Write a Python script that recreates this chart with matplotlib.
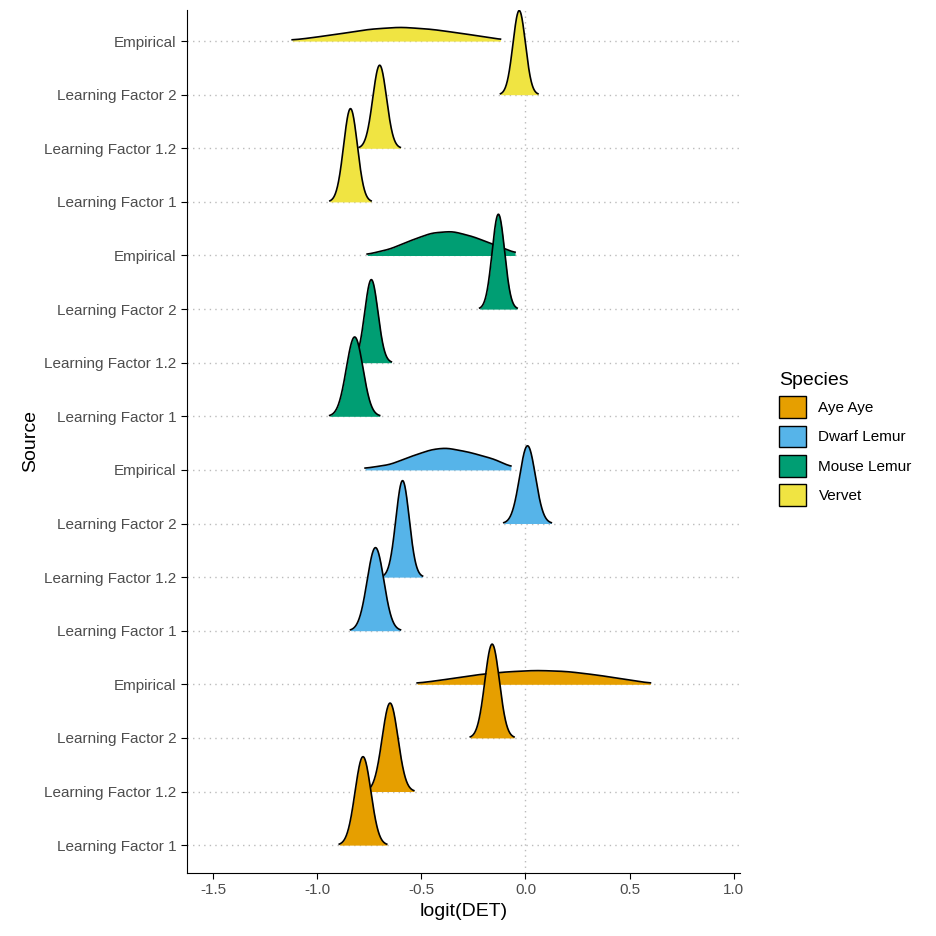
import numpy as np
import matplotlib.pyplot as plt
from matplotlib.patches import Patch

plt.rcParams["font.family"] = ["Liberation Sans", "DejaVu Sans"]

species = ["Aye Aye", "Dwarf Lemur", "Mouse Lemur", "Vervet"]
colors = ["#E69F00", "#56B4E9", "#009E73", "#F0E442"]
sources = ["Learning Factor 1", "Learning Factor 1.2", "Learning Factor 2", "Empirical"]

# narrow ridges (learning factors): centre, spread, peak height (in row units)
lf_mean = {
    "Aye Aye": [-0.78, -0.65, -0.16],
    "Dwarf Lemur": [-0.72, -0.59, 0.01],
    "Mouse Lemur": [-0.82, -0.74, -0.13],
    "Vervet": [-0.84, -0.70, -0.03],
}
lf_sd = {
    "Aye Aye": [0.038, 0.038, 0.035],
    "Dwarf Lemur": [0.04, 0.032, 0.038],
    "Mouse Lemur": [0.04, 0.032, 0.03],
    "Vervet": [0.033, 0.033, 0.03],
}
lf_peak = {
    "Aye Aye": [1.65, 1.65, 1.75],
    "Dwarf Lemur": [1.55, 1.8, 1.45],
    "Mouse Lemur": [1.48, 1.55, 1.77],
    "Vervet": [1.74, 1.55, 1.57],
}

# empirical ridges: x knots and heights (row units)
emp_x = {
    "Aye Aye": [-0.52, -0.4, -0.25, -0.1, 0.05, 0.2, 0.35, 0.5, 0.6],
    "Dwarf Lemur": [-0.77, -0.65, -0.55, -0.45, -0.38, -0.27, -0.15, -0.07],
    "Mouse Lemur": [-0.76, -0.65, -0.55, -0.45, -0.35, -0.25, -0.15, -0.05],
    "Vervet": [-1.12, -1.05, -0.9, -0.75, -0.6, -0.45, -0.3, -0.2, -0.12],
}
emp_h = {
    "Aye Aye": [0.02, 0.08, 0.17, 0.23, 0.26, 0.24, 0.17, 0.08, 0.02],
    "Dwarf Lemur": [0.03, 0.10, 0.25, 0.38, 0.41, 0.33, 0.20, 0.06],
    "Mouse Lemur": [0.02, 0.12, 0.28, 0.42, 0.45, 0.35, 0.20, 0.05],
    "Vervet": [0.02, 0.05, 0.13, 0.22, 0.26, 0.22, 0.14, 0.08, 0.03],
}


def smooth(y, width=15):
    # soften the corners of the read-off knots
    pad = np.pad(y, width, mode="edge")
    kern = np.hanning(2 * width + 1)
    kern /= kern.sum()
    return np.convolve(pad, kern, mode="same")[width:-width]


fig = plt.figure(figsize=(9.36, 9.36), dpi=100)
ax = fig.add_axes([187 / 936, 63 / 936, 553 / 936, 863 / 936])

labels = []
for s in species:
    labels += sources
n_rows = len(labels)

for r in range(n_rows):
    ax.axhline(r, color="#bbbbbb", lw=1, ls=(0, (1, 3)), zorder=0)
ax.axvline(0, color="#bbbbbb", lw=1, ls=(0, (1, 3)), zorder=0)

# draw from the top row down so lower rows sit in front
for si in reversed(range(len(species))):
    s = species[si]
    for k in reversed(range(4)):
        row = si * 4 + k
        z = 10 + (n_rows - row)
        if k == 3:
            xs = np.linspace(emp_x[s][0], emp_x[s][-1], 200)
            ys = smooth(np.interp(xs, emp_x[s], emp_h[s]))
        else:
            m, sd, pk = lf_mean[s][k], lf_sd[s][k], lf_peak[s][k]
            xs = np.linspace(m - 3 * sd, m + 3 * sd, 200)
            ys = pk * np.exp(-0.5 * ((xs - m) / sd) ** 2)
        ax.fill_between(xs, row, row + ys, color=colors[si], zorder=z, lw=0)
        ax.plot(xs, row + ys, color="black", lw=1.2, zorder=z)

ax.set_xlim(-1.625, 1.03)
ax.set_ylim(-0.52, 15.58)
ax.set_yticks(range(n_rows))
ax.set_yticklabels(labels)
ax.set_xticks([-1.5, -1.0, -0.5, 0.0, 0.5, 1.0])
ax.set_xticklabels(["-1.5", "-1.0", "-0.5", "0.0", "0.5", "1.0"])
ax.tick_params(labelsize=11, colors="#4d4d4d", length=4)
ax.tick_params(axis="both", color="black")
for sp in ["top", "right"]:
    ax.spines[sp].set_visible(False)
ax.set_xlabel("logit(DET)", fontsize=14)
ax.set_ylabel("Source", fontsize=14)

handles = [Patch(facecolor=c, edgecolor="black", label=s) for s, c in zip(species, colors)]
fig.legend(handles=handles, title="Species", loc="upper left",
           bbox_to_anchor=(765 / 936, 1 - 358 / 936), frameon=False,
           fontsize=11, title_fontsize=14, handlelength=1.8, handleheight=1.8,
           alignment="left")

fig.savefig("out.png", dpi=100)
